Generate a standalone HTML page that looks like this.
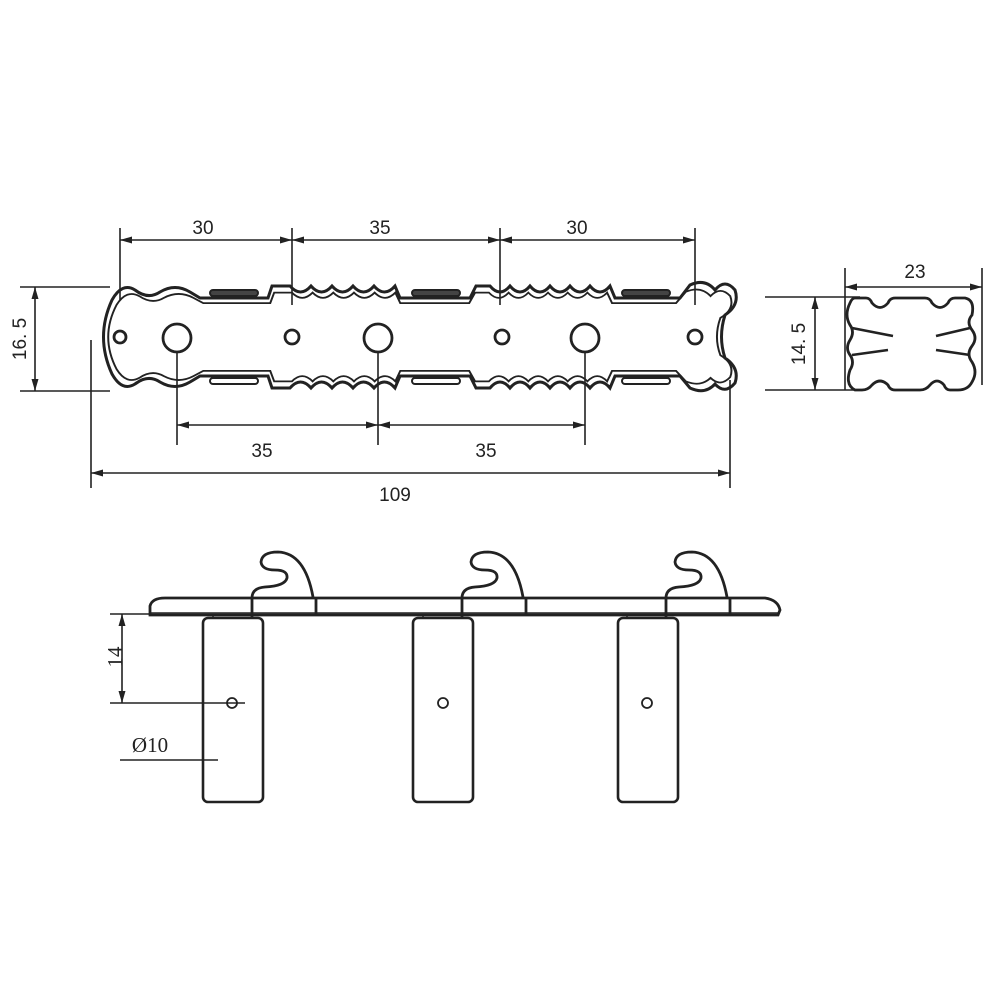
<!DOCTYPE html>
<html><head><style>
html,body{margin:0;padding:0;background:#fff;}
svg{display:block;}
text{font-family:"Liberation Sans",sans-serif;fill:#222;}
</style></head><body>
<svg width="1000" height="1000" viewBox="0 0 1000 1000" xmlns="http://www.w3.org/2000/svg">
<defs>
<marker id="a" viewBox="0 0 12 10" refX="12" refY="5" markerWidth="12" markerHeight="10" orient="auto-start-reverse" markerUnits="userSpaceOnUse"><path d="M0,1.5 L12,5 L0,8.5 Z" fill="#222" stroke="none"/></marker>
<path id="plp" d="M112,300 Q122,282 135,290 Q148,300 160,292 Q175,283 190,292 L200,298 L268,298 L272,286 L290,286 q10.5,12 21,0 q10.5,12 21,0 q10.5,12 21,0 q10.5,12 21,0 q10.5,12 21,0 L400,298 L470,298 L476,286 L490,286 q10,12 20,0 q10,12 20,0 q10,12 20,0 q10,12 20,0 q10,12 20,0 q10,12 20,0 L615,298 L680,298 L690,285 Q705,278 715,290 Q725,278 735,290 Q740,305 725,315 Q718,337 725,358 Q740,368 735,383 Q725,395 715,384 Q705,395 690,388 L680,376 L615,376 L610,388 q-10,-12 -20,0 q-10,-12 -20,0 q-10,-12 -20,0 q-10,-12 -20,0 q-10,-12 -20,0 q-10,-12 -20,0 L476,388 L470,376 L400,376 L395,388 q-10.5,-12 -21,0 q-10.5,-12 -21,0 q-10.5,-12 -21,0 q-10.5,-12 -21,0 q-10.5,-12 -21,0 L272,388 L268,376 L200,376 L190,382 Q175,391 160,382 Q148,374 135,384 Q122,392 112,374 Q95,337 112,300 Z"/>
</defs>
<g stroke="#222" fill="none">
<use href="#plp" stroke-width="3"/>
<use href="#plp" stroke-width="2" transform="translate(418 337) scale(0.985 0.87) translate(-418 -337)"/>
<g stroke-width="2" fill="#444">
<rect x="210" y="290" width="48" height="6" rx="3"/><rect x="412" y="290" width="48" height="6" rx="3"/><rect x="622" y="290" width="48" height="6" rx="3"/>
</g>
<g stroke-width="2">
<rect x="210" y="378" width="48" height="6" rx="3"/><rect x="412" y="378" width="48" height="6" rx="3"/><rect x="622" y="378" width="48" height="6" rx="3"/>
</g>
<g stroke-width="2.8">
<circle cx="120" cy="337" r="6"/><circle cx="177" cy="338" r="14"/><circle cx="292" cy="337" r="7"/><circle cx="378" cy="338" r="14"/><circle cx="502" cy="337" r="7"/><circle cx="585" cy="338" r="14"/><circle cx="695" cy="337" r="7"/>
</g>
<g stroke-width="1.6">
<line x1="120" y1="228" x2="120" y2="300"/><line x1="292" y1="228" x2="292" y2="305"/><line x1="500" y1="228" x2="500" y2="305"/><line x1="695" y1="228" x2="695" y2="305"/>
<line x1="120" y1="240" x2="292" y2="240" marker-start="url(#a)" marker-end="url(#a)"/>
<line x1="292" y1="240" x2="500" y2="240" marker-start="url(#a)" marker-end="url(#a)"/>
<line x1="500" y1="240" x2="695" y2="240" marker-start="url(#a)" marker-end="url(#a)"/>
<line x1="177" y1="352" x2="177" y2="445"/><line x1="378" y1="352" x2="378" y2="445"/><line x1="585" y1="352" x2="585" y2="445"/>
<line x1="177" y1="425" x2="378" y2="425" marker-start="url(#a)" marker-end="url(#a)"/>
<line x1="378" y1="425" x2="585" y2="425" marker-start="url(#a)" marker-end="url(#a)"/>
<line x1="91" y1="340" x2="91" y2="488"/><line x1="730" y1="380" x2="730" y2="488"/>
<line x1="91" y1="473" x2="730" y2="473" marker-start="url(#a)" marker-end="url(#a)"/>
<line x1="20" y1="287" x2="110" y2="287"/><line x1="20" y1="391" x2="110" y2="391"/>
<line x1="35" y1="287" x2="35" y2="391" marker-start="url(#a)" marker-end="url(#a)"/>
</g>
<path stroke-width="2.8" d="M855,298 L866,298 Q870,298 872,303 Q880,312 888,303 Q890,298 895,298 L925,298 Q930,298 932,303 Q940,312 948,303 Q950,298 955,298 L965,298 Q975,300 972,315 Q966,322 972,330 Q978,338 972,346 Q966,354 972,362 Q978,372 972,382 Q968,390 958,390 L950,390 Q946,390 944,385 Q937,377 930,385 Q926,390 920,390 L895,390 Q890,390 888,385 Q880,377 872,385 Q868,390 862,390 L855,390 Q845,385 850,370 Q855,362 850,355 Q845,348 850,340 Q855,332 850,325 Q844,315 850,303 Q852,298 855,298 Z"/>
<g stroke-width="2.6">
<line x1="852" y1="328" x2="893" y2="336"/><line x1="852" y1="355" x2="888" y2="350"/>
<line x1="970" y1="328" x2="936" y2="336"/><line x1="970" y1="355" x2="936" y2="350"/>
</g>
<g stroke-width="1.6">
<line x1="845" y1="268" x2="845" y2="390"/><line x1="982" y1="268" x2="982" y2="385"/>
<line x1="845" y1="287" x2="982" y2="287" marker-start="url(#a)" marker-end="url(#a)"/>
<line x1="765" y1="297" x2="860" y2="297"/><line x1="765" y1="390" x2="860" y2="390"/>
<line x1="815" y1="297" x2="815" y2="390" marker-start="url(#a)" marker-end="url(#a)"/>
</g>
<path stroke-width="2.8" d="M150,615 L150,606 Q152,598 165,598 L765,598 Q778,600 780,610 L778,615 Z"/>
<line x1="150" y1="613" x2="778" y2="613" stroke-width="1.6"/>
<g stroke-width="2.6">
<rect x="203" y="618" width="60" height="184" rx="5"/>
<rect x="413" y="618" width="60" height="184" rx="5"/>
<rect x="618" y="618" width="60" height="184" rx="5"/>
</g>
<g stroke-width="1.8"><circle cx="232" cy="703" r="5"/><circle cx="443" cy="703" r="5"/><circle cx="647" cy="703" r="5"/></g>
<g id="hk" stroke-width="2.8">
<path d="M252,618 L252,598 Q252,588 265,587 Q285,586 287,578 Q288,570 275,570 Q262,570 261,562 Q262,552 278,552 Q305,553 313,597"/>
<line x1="316" y1="598" x2="316" y2="615"/>
<line x1="213" y1="614" x2="213" y2="618" stroke-width="1.5"/>
</g>
<use href="#hk" transform="translate(210 0)"/>
<use href="#hk" transform="translate(414 0)"/>
<g stroke-width="1.6">
<line x1="110" y1="614" x2="150" y2="614"/>
<line x1="110" y1="703" x2="245" y2="703"/>
<line x1="122" y1="614" x2="122" y2="703" marker-start="url(#a)" marker-end="url(#a)"/>
<line x1="120" y1="760" x2="218" y2="760"/>
</g>
</g>
<g font-size="19" text-anchor="middle">
<text x="203" y="234">30</text><text x="380" y="234">35</text><text x="577" y="234">30</text>
<text x="262" y="457">35</text><text x="486" y="457">35</text>
<text x="395" y="501">109</text>
<text x="915" y="278">23</text>
<text transform="translate(26 339) rotate(-90)">16. 5</text>
<text transform="translate(805 344) rotate(-90)">14. 5</text>
<text style="font-family:'Liberation Serif',serif" font-size="21" transform="translate(122 657) rotate(-90)">14</text>
<text style="font-family:'Liberation Serif',serif" font-size="21" x="150" y="752">Ø10</text>
</g>
</svg>
</body></html>
